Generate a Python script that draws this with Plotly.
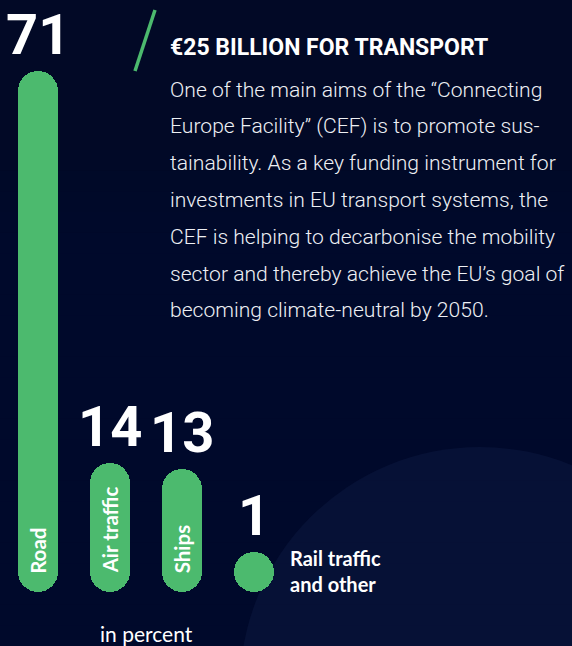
import plotly.graph_objects as go

# ---- data ----
categories = ["Road", "Air traffic", "Ships", "Rail traffic<br>and other"]
inner_labels = ["Road", "Air traffic", "Ships", ""]
values = [71, 14, 13, 1]
title_text = "€25 BILLION FOR TRANSPORT"
body_lines = [
    "One of the main aims of the “Connecting",
    "Europe Facility” (CEF) is to promote sus-",
    "tainability. As a key funding instrument for",
    "investments in EU transport systems, the",
    "CEF is helping to decarbonise the mobility",
    "sector and thereby achieve the EU’s goal of",
    "becoming climate-neutral by 2050.",
]
unit_text = "in percent"

# ---- style ----
W, H = 572, 646
GREEN = "#4cba6e"
BG = "#020926"
WHITE = "#ffffff"
NUM_FONT = "Roboto, sans-serif"
SANS = "Lato, Inter, sans-serif"
BASE = 4.82          # visual base offset below zero (bars start here)
BAR_W = 0.556
XR = [-0.528, 7.417]
YR = [-12.70, 81.33]

xs = list(range(len(values)))

def px(x):
    return x / W

def py(y):
    return 1 - y / H

fig = go.Figure()

fig.add_trace(go.Bar(
    x=xs, y=[v + BASE for v in values], base=[-BASE] * len(values),
    width=BAR_W, marker=dict(color=GREEN, line=dict(width=0), cornerradius=20),
    hoverinfo="skip", showlegend=False,
))

ann = []
# value numbers
for x, v in zip(xs, values):
    ann.append(dict(x=x, y=v, xref="x", yref="y", text=f"<b>{v}</b>",
                    showarrow=False, xanchor="center", yanchor="bottom", yshift=1,
                    font=dict(family=NUM_FONT, size=56, color=WHITE, weight=900)))
# inner rotated labels
for x, lab in zip(xs, inner_labels):
    if lab:
        ann.append(dict(x=x, y=-BASE, xref="x", yref="y", text=f"<b>{lab}</b>",
                        showarrow=False, textangle=-90, xanchor="center",
                        yanchor="bottom", yshift=16,
                        font=dict(family=SANS, size=20.5, color=WHITE)))
# last category label beside the dot
ann.append(dict(x=xs[-1], y=-BASE, xref="x", yref="y", text=f"<b>{categories[-1]}</b>",
                showarrow=False, xanchor="left", yanchor="bottom", xshift=34, yshift=-6,
                align="left", font=dict(family=SANS, size=20, color=WHITE)))
# unit
ann.append(dict(x=px(146), y=py(633), xref="paper", yref="paper", text=unit_text,
                showarrow=False, xanchor="center", yanchor="middle",
                font=dict(family=SANS, size=21, color=WHITE)))
# title
ann.append(dict(x=px(168), y=py(48), xref="paper", yref="paper", text=f"<b>{title_text}</b>",
                showarrow=False, xanchor="left", yanchor="middle",
                font=dict(family=NUM_FONT, size=23, color=WHITE)))
# body
for i, line in enumerate(body_lines):
    base_y = 97 + 36.8 * i
    ann.append(dict(x=px(168), y=py(base_y - 8), xref="paper", yref="paper", text=line,
                    showarrow=False, xanchor="left", yanchor="middle",
                    font=dict(family=NUM_FONT, size=21.1, color="#eef0f4", weight=300)))

shapes = []
# soft vertical gradient (lighter towards the bottom)
n_bands = 24
for k in range(n_bands):
    y_top = 150 + k * (646 - 150) / n_bands
    shapes.append(dict(type="rect", xref="paper", yref="paper", layer="below",
                       x0=0, x1=1, y0=0, y1=py(y_top),
                       fillcolor="rgba(14,32,72,0.022)", line=dict(width=0)))
shapes += [
    dict(type="circle", xref="paper", yref="paper", layer="below",
         x0=px(240), x1=px(720), y0=py(927), y1=py(447),
         fillcolor="rgba(40,65,115,0.16)", line=dict(width=0)),
    dict(type="line", xref="paper", yref="paper",
         x0=px(135), y0=py(71), x1=px(155), y1=py(10),
         line=dict(color=GREEN, width=3.5)),
]

fig.update_layout(
    width=W, height=H, margin=dict(l=0, r=0, t=0, b=0),
    paper_bgcolor=BG, plot_bgcolor="rgba(0,0,0,0)",
    barmode="overlay", bargap=0,
    xaxis=dict(range=XR, visible=False, fixedrange=True),
    yaxis=dict(range=YR, visible=False, fixedrange=True),
    annotations=ann, shapes=shapes, showlegend=False,
)

fig.write_html("out.html", config={"displayModeBar": False},
               post_script="document.body.style.margin='0';")
